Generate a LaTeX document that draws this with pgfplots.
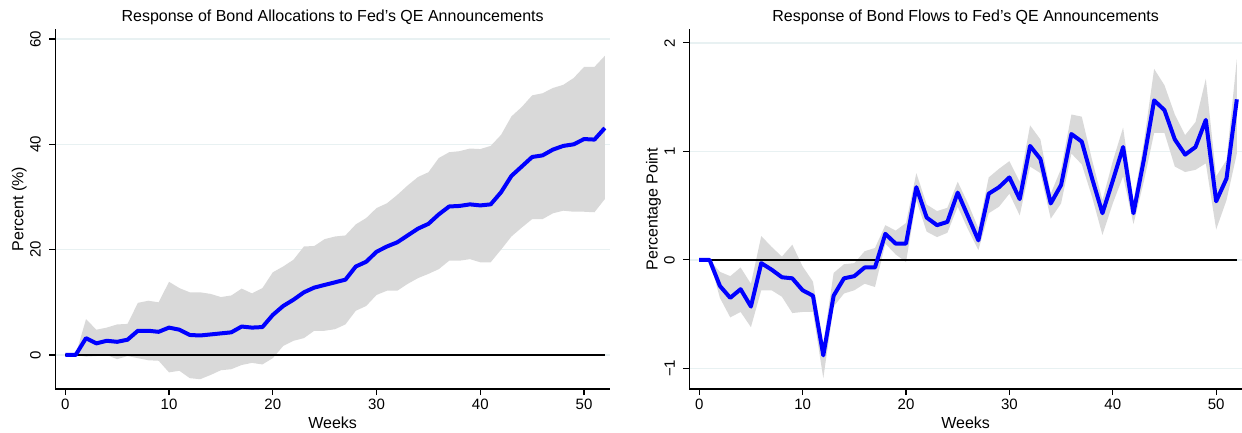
\documentclass[border=0pt]{standalone}
\usepackage{pgfplots}
\pgfplotsset{compat=1.18}
\usepackage{pgfplotstable}
\usepgfplotslibrary{fillbetween}
\usepackage{fontspec}
\setmainfont{Liberation Sans}
\definecolor{band}{RGB}{217,217,217}
\definecolor{gridc}{RGB}{232,241,242}
\definecolor{qeblue}{RGB}{0,0,255}

\pgfplotstableread{
w est lo hi
0 0 0 0
1 0 0 0
2 3.2 -0.3 6.8
3 2.2 -0.2 4.8
4 2.7 0.0 5.2
5 2.5 -0.8 5.8
6 2.9 -0.2 5.9
7 4.6 -0.6 9.9
8 4.6 -1.0 10.3
9 4.4 -1.1 10.0
10 5.2 -3.3 13.9
11 4.8 -3.0 12.7
12 3.8 -4.4 11.9
13 3.7 -4.6 11.9
14 3.9 -3.8 11.6
15 4.1 -2.9 11.0
16 4.3 -2.7 11.3
17 5.4 -1.9 12.6
18 5.2 -1.5 11.7
19 5.3 -1.8 12.7
20 7.6 -0.6 15.7
21 9.3 1.7 16.8
22 10.5 2.7 18.1
23 11.9 3.2 20.6
24 12.8 4.6 20.7
25 13.3 4.6 22.0
26 13.8 4.9 22.5
27 14.3 5.8 22.7
28 16.8 8.4 24.8
29 17.7 9.3 26.0
30 19.6 11.4 27.9
31 20.6 12.2 28.8
32 21.4 12.2 30.4
33 22.7 13.5 32.2
34 24.0 14.6 33.8
35 24.9 15.4 34.7
36 26.7 16.3 37.4
37 28.2 17.9 38.5
38 28.3 17.9 38.7
39 28.6 18.2 39.2
40 28.4 17.6 39.1
41 28.6 17.6 39.7
42 30.9 20.0 41.8
43 34.0 22.5 45.3
44 35.8 24.2 47.1
45 37.6 25.8 49.3
46 37.9 25.8 49.7
47 39.0 26.9 50.7
48 39.7 27.4 51.3
49 40.0 27.2 52.6
50 41.0 27.2 54.7
51 40.9 27.1 54.7
52 43.1 29.6 56.8
}\alloc

\pgfplotstableread{
w est lo hi
0 0 0 0
1 0 0 0
2 -0.24 -0.35 -0.11
3 -0.35 -0.53 -0.15
4 -0.27 -0.48 -0.07
5 -0.43 -0.62 -0.22
6 -0.03 -0.28 0.22
7 -0.09 -0.28 0.12
8 -0.16 -0.34 0.03
9 -0.17 -0.49 0.14
10 -0.28 -0.48 -0.06
11 -0.33 -0.48 -0.20
12 -0.88 -1.09 -0.77
13 -0.33 -0.43 -0.12
14 -0.17 -0.31 -0.04
15 -0.15 -0.28 -0.03
16 -0.07 -0.22 0.08
17 -0.07 -0.25 0.11
18 0.24 0.15 0.32
19 0.15 0.05 0.27
20 0.15 -0.02 0.34
21 0.67 0.55 0.80
22 0.39 0.26 0.51
23 0.32 0.21 0.45
24 0.35 0.25 0.48
25 0.62 0.49 0.72
26 0.40 0.28 0.52
27 0.18 0.09 0.29
28 0.61 0.43 0.76
29 0.67 0.49 0.84
30 0.76 0.61 0.91
31 0.56 0.41 0.72
32 1.05 0.86 1.24
33 0.93 0.80 1.11
34 0.52 0.38 0.61
35 0.69 0.52 0.84
36 1.16 0.98 1.34
37 1.09 0.88 1.32
38 0.75 0.58 0.92
39 0.43 0.23 0.55
40 0.73 0.52 0.91
41 1.04 0.77 1.22
42 0.43 0.33 0.54
43 0.92 0.72 1.08
44 1.47 1.17 1.76
45 1.38 1.17 1.61
46 1.11 0.86 1.34
47 0.97 0.81 1.15
48 1.04 0.83 1.27
49 1.29 0.89 1.67
50 0.54 0.28 0.77
51 0.75 0.55 0.92
52 1.48 0.98 1.85
}\flows

\pgfplotsset{
  stata/.style={
    scale only axis,
    anchor=south west,
    font=\fontsize{15}{18}\selectfont,
    axis x line*=bottom,
    axis y line*=left,
    axis line style={black, line width=1.4pt},
    every tick/.style={black, line width=1.2pt},
    tick align=outside,
    major tick length=6pt,
    /pgf/number format/assume math mode=true,
    ymajorgrids,
    grid style={gridc, line width=1.3pt},
    xtick={0,10,20,30,40,50},
    xmin=-0.96, xmax=52.5,
    yticklabel style={rotate=90, anchor=south, yshift=5pt},
    every axis title/.style={at={(0.5,1)}, anchor=base, yshift=7.9pt, font=\fontsize{16}{18}\selectfont},
    every axis x label/.style={at={(0.5,0)}, anchor=base, yshift=-39pt, font=\fontsize{16}{18}\selectfont},
    every axis y label/.style={at={(0,0.5)}, rotate=90, anchor=base, yshift=31.8pt, font=\fontsize{16}{18}\selectfont},
  }
}

\begin{document}
\begin{tikzpicture}

\begin{axis}[stata,
  at={(55.3pt,43pt)}, width=554.7pt, height=360pt,
  ymin=-6.46, ymax=61.9, ytick={0,20,40,60},
  title={Response of Bond Allocations to Fed’s QE Announcements},
  xlabel={Weeks}, ylabel={Percent (\%)}]
\addplot[name path=ahi, draw=none] table[x=w, y=hi]{\alloc};
\addplot[name path=alo, draw=none] table[x=w, y=lo]{\alloc};
\addplot[fill=band, draw=none] fill between[of=ahi and alo];
\addplot[black, line width=1.4pt] coordinates {(0,0) (52,0)};
\addplot[qeblue, line width=4pt, line join=round] table[x=w, y=est]{\alloc};
\end{axis}

\begin{axis}[stata,
  at={(689.3pt,43pt)}, width=552.7pt, height=360pt,
  ymin=-1.19, ymax=2.128, ytick={-1,0,1,2}, yticklabels={−1,0,1,2},
  title={Response of Bond Flows to Fed’s QE Announcements},
  xlabel={Weeks}, ylabel={Percentage Point}]
\addplot[name path=fhi, draw=none] table[x=w, y=hi]{\flows};
\addplot[name path=flo, draw=none] table[x=w, y=lo]{\flows};
\addplot[fill=band, draw=none] fill between[of=fhi and flo];
\addplot[black, line width=1.4pt] coordinates {(0,0) (52,0)};
\addplot[qeblue, line width=4pt, line join=round] table[x=w, y=est]{\flows};
\end{axis}

\pgfresetboundingbox
\path[use as bounding box] (0pt,0pt) rectangle (1242pt,432pt);
\end{tikzpicture}
\end{document}
